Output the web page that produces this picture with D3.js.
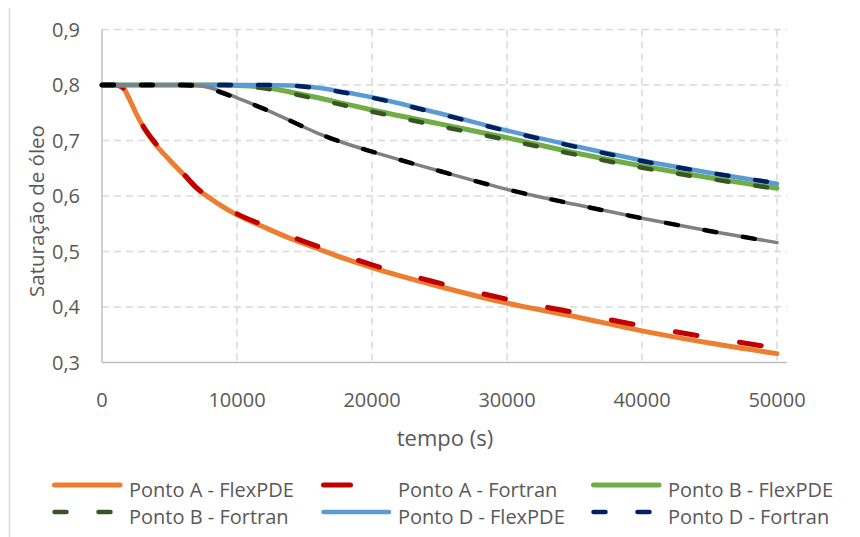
<!DOCTYPE html>
<html><head><meta charset="utf-8">
<script src="https://cdn.jsdelivr.net/npm/d3@7"></script>
<style>html,body{margin:0;padding:0;background:#fff;}svg{display:block;font-family:"Open Sans",sans-serif;}</style>
</head><body>
<svg id="chart" width="860" height="537"></svg>
<script>
const tempo = [0,1000,1500,2000,2500,3000,4000,5000,6000,7000,8000,9000,10000,12000,14000,16000,18000,20000,25000,30000,35000,40000,45000,50000];
const pontoA_FlexPDE = [0.8,0.8,0.797,0.776,0.75,0.727,0.692,0.665,0.64,0.614,0.596,0.58,0.566,0.544,0.523,0.505,0.487,0.471,0.437,0.407,0.383,0.357,0.335,0.316];
const pontoA_Fortran = [0.8,0.8,0.796,0.777,0.752,0.728,0.694,0.666,0.641,0.615,0.597,0.582,0.568,0.547,0.527,0.509,0.492,0.476,0.443,0.414,0.39,0.366,0.345,0.326];
const pontoB_FlexPDE = [0.8,0.8,0.8,0.8,0.8,0.8,0.8,0.8,0.8,0.8,0.8,0.8,0.799,0.796,0.787,0.777,0.766,0.755,0.73,0.705,0.678,0.654,0.633,0.614];
const pontoB_Fortran = [0.8,0.8,0.8,0.8,0.8,0.8,0.8,0.8,0.8,0.8,0.8,0.8,0.799,0.794,0.785,0.774,0.763,0.752,0.726,0.701,0.675,0.651,0.631,0.613];
const pontoD_FlexPDE = [0.8,0.8,0.8,0.8,0.8,0.8,0.8,0.8,0.8,0.8,0.8,0.8,0.8,0.8,0.799,0.795,0.787,0.778,0.749,0.718,0.69,0.664,0.642,0.622];
const pontoD_Fortran = [0.8,0.8,0.8,0.8,0.8,0.8,0.8,0.8,0.8,0.8,0.8,0.8,0.8,0.8,0.799,0.794,0.786,0.777,0.748,0.717,0.689,0.663,0.642,0.623];
const pontoC_FlexPDE = [0.8,0.8,0.8,0.8,0.8,0.8,0.8,0.8,0.8,0.799,0.795,0.787,0.777,0.757,0.735,0.713,0.695,0.68,0.645,0.612,0.585,0.56,0.537,0.516];
const pontoC_Fortran = [0.8,0.8,0.8,0.8,0.8,0.8,0.8,0.8,0.8,0.798,0.793,0.785,0.776,0.757,0.735,0.713,0.695,0.68,0.645,0.612,0.585,0.56,0.537,0.516];
const xTicks = [0,10000,20000,30000,40000,50000];
const yTicks = [0.3,0.4,0.5,0.6,0.7,0.8,0.9];
const series = [
  {name:"Ponto A - FlexPDE", values:pontoA_FlexPDE, color:"#ED7D31", width:5, dash:null, legend:true},
  {name:"Ponto A - Fortran", values:pontoA_Fortran, color:"#C00000", width:5, dash:"22,43", legend:true},
  {name:"Ponto B - FlexPDE", values:pontoB_FlexPDE, color:"#70AD47", width:5, dash:null, legend:true},
  {name:"Ponto B - Fortran", values:pontoB_Fortran, color:"#375623", width:4.5, dash:"12,27", legend:true},
  {name:"Ponto D - FlexPDE", values:pontoD_FlexPDE, color:"#5B9BD5", width:4.5, dash:null, legend:true},
  {name:"Ponto D - Fortran", values:pontoD_Fortran, color:"#002060", width:4.5, dash:"12,27", legend:true},
  {name:"Ponto C - FlexPDE", values:pontoC_FlexPDE, color:"#808080", width:3.5, dash:null, legend:false},
  {name:"Ponto C - Fortran", values:pontoC_Fortran, color:"#000000", width:4.5, dash:"12,27", legend:false}
];

const svg = d3.select("#chart");
const x = d3.scaleLinear().domain([0,50000]).range([102,777]);
const y = d3.scaleLinear().domain([0.3,0.9]).range([362.5,29.5]);
const plotRight = 787;
const txt = "#595959";

// outer chart border (left edge)
svg.append("line").attr("x1",9.5).attr("x2",9.5).attr("y1",8).attr("y2",537)
  .attr("stroke","#d9d9d9").attr("stroke-width",1.5);

// gridlines
svg.append("g").selectAll("line").data(yTicks.filter(d=>d>0.3)).join("line")
  .attr("x1",102).attr("x2",plotRight).attr("y1",d=>y(d)).attr("y2",d=>y(d))
  .attr("stroke","#d9d9d9").attr("stroke-width",1.5).attr("stroke-dasharray","7,5");
svg.append("g").selectAll("line").data(xTicks.filter(d=>d>0)).join("line")
  .attr("x1",d=>x(d)).attr("x2",d=>x(d)).attr("y1",y(0.9)).attr("y2",y(0.3))
  .attr("stroke","#d9d9d9").attr("stroke-width",1.5).attr("stroke-dasharray","7,5");

// axis lines
svg.append("line").attr("x1",x(0)).attr("x2",x(0)).attr("y1",y(0.9)).attr("y2",y(0.3))
  .attr("stroke","#bfbfbf").attr("stroke-width",1.5);
svg.append("line").attr("x1",x(0)).attr("x2",plotRight).attr("y1",y(0.3)).attr("y2",y(0.3))
  .attr("stroke","#bfbfbf").attr("stroke-width",1.5);

// tick labels
const fmtY = d => d3.format(".1f")(d).replace(".",",");
svg.append("g").selectAll("text").data(yTicks).join("text")
  .attr("x",80).attr("y",d=>y(d)).attr("dy","0.35em").attr("text-anchor","end")
  .attr("fill",txt).attr("font-size",20).text(fmtY);
svg.append("g").selectAll("text").data(xTicks).join("text")
  .attr("x",d=>x(d)).attr("y",407).attr("text-anchor","middle")
  .attr("fill",txt).attr("font-size",20).text(d=>String(d));

// axis titles
svg.append("text").attr("x",445).attr("y",446).attr("text-anchor","middle")
  .attr("fill",txt).attr("font-size",22).text("tempo (s)");
svg.append("text").attr("transform","translate(44,211) rotate(-90)").attr("text-anchor","middle")
  .attr("fill",txt).attr("font-size",20.5).text("Saturação de óleo");

// lines
const line = d3.line().x((d,i)=>x(tempo[i])).y(d=>y(d)).curve(d3.curveMonotoneX);
svg.append("g").selectAll("path").data(series).join("path")
  .attr("d",d=>line(d.values)).attr("fill","none")
  .attr("stroke",d=>d.color).attr("stroke-width",d=>d.width)
  .attr("stroke-dasharray",d=>d.dash).attr("stroke-linecap","round").attr("stroke-linejoin","round");

// legend
const leg = series.filter(s=>s.legend);
const colX = [52,321,591];
const rowY = [485,512];
const lg = svg.append("g").selectAll("g").data(leg).join("g")
  .attr("transform",(d,i)=>`translate(${colX[i%3]},${rowY[Math.floor(i/3)]})`);
lg.append("line").attr("x1",2.5).attr("x2",68).attr("y1",0).attr("y2",0)
  .attr("stroke",d=>d.color).attr("stroke-width",d=>d.width)
  .attr("stroke-linecap","round")
  .attr("stroke-dasharray",d=>d.dash ? (d.color==="#C00000" ? "27,60" : "12,32") : null);
lg.append("text").attr("x",77).attr("y",12).attr("fill",txt).attr("font-size",20).text(d=>d.name);
</script>
</body></html>
